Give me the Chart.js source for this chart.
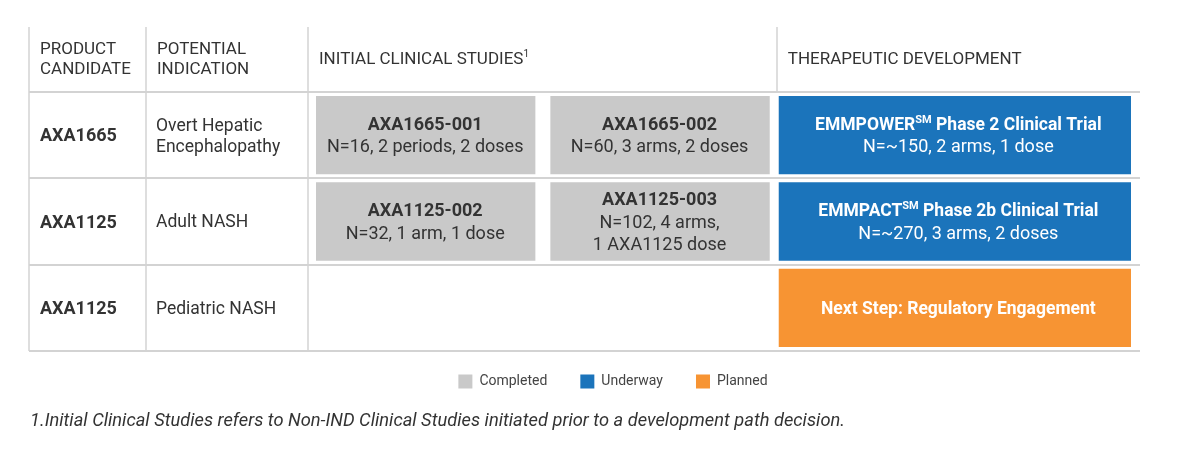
<!DOCTYPE html>
<html lang="en">
<head>
<meta charset="UTF-8">
<title>Pipeline</title>
<style>
  html, body { margin: 0; padding: 0; background: #fff; }
  #wrap { width: 1180px; height: 467px; }
</style>
</head>
<body>
<div id="wrap"><canvas id="pipelineChart" width="1180" height="467"></canvas></div>

<script src="https://cdn.jsdelivr.net/npm/chart.js@4.4.1/dist/chart.umd.min.js"></script>
<script>
// table rows
const candidates = ['AXA1665', 'AXA1125', 'AXA1125'];
const indications = [['Overt Hepatic', 'Encephalopathy'], ['Adult NASH'], ['Pediatric NASH']];

// column headers (^...^ = superscript)
const headers = [['PRODUCT', 'CANDIDATE'], ['POTENTIAL', 'INDICATION'], ['INITIAL CLINICAL STUDIES^1^'], ['THERAPEUTIC DEVELOPMENT']];

// stage axis: study slot 1 = 0..1, study slot 2 = 1..2, therapeutic development = 2..end
const stageStarts = [0, 2];
const stageEnd = 3.55;

// bars, [start, end] per row
const firstStudy = [[0, 1], [0, 1], null];
const secondStudy = [[1, 2], [1, 2], null];
const underwayTrials = [[2, 3.55], [2, 3.55], null];
const plannedSteps = [null, null, [2, 3.55]];

// text in the bars
const firstStudyText = [['AXA1665-001', 'N=16, 2 periods, 2 doses'], ['AXA1125-002', 'N=32, 1 arm, 1 dose'], null];
const secondStudyText = [['AXA1665-002', 'N=60, 3 arms, 2 doses'], ['AXA1125-003', 'N=102, 4 arms,', '1 AXA1125 dose'], null];
const underwayText = [['EMMPOWER^SM^ Phase 2 Clinical Trial', 'N=~150, 2 arms, 1 dose'], ['EMMPACT^SM^ Phase 2b Clinical Trial', 'N=~270, 3 arms, 2 doses'], null];
const plannedText = [null, null, ['Next Step: Regulatory Engagement']];

const footnote = '1.Initial Clinical Studies refers to Non-IND Clinical Studies initiated prior to a development path decision.';

const colors = { completed: '#c9c9c9', underway: '#1b74bb', planned: '#f79433' };
const GRID = '#d3d3d3';
const TEXT = '#333333';
const FONT = 'Roboto, "Liberation Sans", sans-serif';

// draws a line of text with ^superscript^ parts
function drawRich(ctx, str, x, y, size, weight, color, align) {
    const parts = str.split('^');
    const mainFont = weight + ' ' + size + 'px ' + FONT;
    const supFont = weight + ' ' + Math.round(size * 0.6) + 'px ' + FONT;
    let w = 0;
    parts.forEach((p, i) => { ctx.font = i % 2 ? supFont : mainFont; w += ctx.measureText(p).width; });
    let cx = align === 'center' ? x - w / 2 : x;
    ctx.fillStyle = color;
    ctx.textAlign = 'left';
    ctx.textBaseline = 'middle';
    parts.forEach((p, i) => {
        ctx.font = i % 2 ? supFont : mainFont;
        ctx.fillText(p, cx, i % 2 ? y - size * 0.3 : y);
        cx += ctx.measureText(p).width;
    });
}

const tablePlugin = {
    id: 'pipelineTable',
    afterDatasetsDraw(chart) {
        const { ctx, chartArea, scales: { x, y } } = chart;
        const colLeft = [29, 146, chartArea.left, x.getPixelForValue(stageStarts[1])];
        const tableTop = 27;
        ctx.save();

        // grid lines
        ctx.strokeStyle = GRID;
        ctx.lineWidth = 2;
        for (let i = 0; i <= candidates.length; i++) {
            const py = Math.round(y.getPixelForValue(i - 0.5));
            ctx.beginPath();
            ctx.moveTo(colLeft[0], py);
            ctx.lineTo(chartArea.right, py);
            ctx.stroke();
        }
        ctx.lineWidth = 1.5;
        colLeft.forEach((cx, i) => {
            ctx.beginPath();
            ctx.moveTo(Math.round(cx), tableTop);
            ctx.lineTo(Math.round(cx), i < 3 ? chartArea.bottom : chartArea.top);
            ctx.stroke();
        });

        // headers
        const headY = (tableTop + chartArea.top) / 2;
        headers.forEach((lines, c) => {
            lines.forEach((t, k) => {
                drawRich(ctx, t, colLeft[c] + 11, headY + (k - (lines.length - 1) / 2) * 20, 17, 'normal', TEXT, 'left');
            });
        });

        // first two columns
        candidates.forEach((name, i) => {
            const py = y.getPixelForValue(i) + 1.5;
            drawRich(ctx, name, colLeft[0] + 11, py, 18, 'bold', TEXT, 'left');
            const ind = indications[i];
            ind.forEach((t, k) => {
                drawRich(ctx, t, colLeft[1] + 10, py + (k - (ind.length - 1) / 2) * 21, 17.5, 'normal', TEXT, 'left');
            });
        });

        // text inside bars
        chart.data.datasets.forEach((ds, di) => {
            chart.getDatasetMeta(di).data.forEach((bar, i) => {
                const lines = ds.texts[i];
                if (!lines) return;
                const { x: bx, base, y: by } = bar.getProps(['x', 'base', 'y'], true);
                const cx = (bx + base) / 2;
                lines.forEach((t, k) => {
                    drawRich(ctx, t, cx, by + 1.5 + (k - (lines.length - 1) / 2) * 22.5, k === 0 ? ds.titleSize : 18,
                        k === 0 ? 'bold' : 'normal', ds.textColor, 'center');
                });
            });
        });

        // legend
        const seen = [];
        chart.data.datasets.forEach(ds => {
            if (!seen.find(s => s.label === ds.label)) seen.push({ label: ds.label, color: ds.backgroundColor });
        });
        ctx.font = '14px ' + FONT;
        const gap = 33, box = 14;
        const total = seen.reduce((s, it) => s + box + 7 + ctx.measureText(it.label).width, 0) + gap * (seen.length - 1);
        let lx = 613 - total / 2;
        const ly = 381.5;
        seen.forEach(it => {
            ctx.fillStyle = it.color;
            ctx.fillRect(lx, ly - box / 2, box, box);
            ctx.font = '14px ' + FONT;
            ctx.fillStyle = '#444';
            ctx.textBaseline = 'middle';
            ctx.fillText(it.label, lx + box + 7, ly);
            lx += box + 7 + ctx.measureText(it.label).width + gap;
        });

        // footnote
        ctx.font = 'italic 18.3px ' + FONT;
        ctx.fillStyle = TEXT;
        ctx.textAlign = 'left';
        ctx.fillText(footnote, 30, 421);
        ctx.restore();
    }
};

const studyBorder = { left: 8, right: 7, top: 4, bottom: 4 };
const trialBorder = { left: 2, right: 9, top: 4, bottom: 4 };

new Chart(document.getElementById('pipelineChart'), {
    type: 'bar',
    data: {
        labels: candidates,
        datasets: [
            { label: 'Completed', data: firstStudy, texts: firstStudyText, titleSize: 18, backgroundColor: colors.completed, textColor: TEXT, borderWidth: studyBorder },
            { label: 'Completed', data: secondStudy, texts: secondStudyText, titleSize: 18, backgroundColor: colors.completed, textColor: TEXT, borderWidth: studyBorder },
            { label: 'Underway', data: underwayTrials, texts: underwayText, titleSize: 17.5, backgroundColor: colors.underway, textColor: '#fff', borderWidth: trialBorder },
            { label: 'Planned', data: plannedSteps, texts: plannedText, titleSize: 17.5, backgroundColor: colors.planned, textColor: '#fff', borderWidth: trialBorder }
        ]
    },
    options: {
        indexAxis: 'y',
        responsive: false,
        animation: false,
        layout: { padding: { top: 92, right: 40, bottom: 116, left: 308 } },
        datasets: {
            bar: { grouped: false, categoryPercentage: 1, barPercentage: 1, borderColor: '#fff', borderSkipped: false, inflateAmount: 0 }
        },
        scales: {
            x: { type: 'linear', min: 0, max: stageEnd, display: false },
            y: { display: false }
        },
        plugins: {
            legend: { display: false },
            tooltip: { enabled: false }
        }
    },
    plugins: [tablePlugin]
});
</script>
</body>
</html>
